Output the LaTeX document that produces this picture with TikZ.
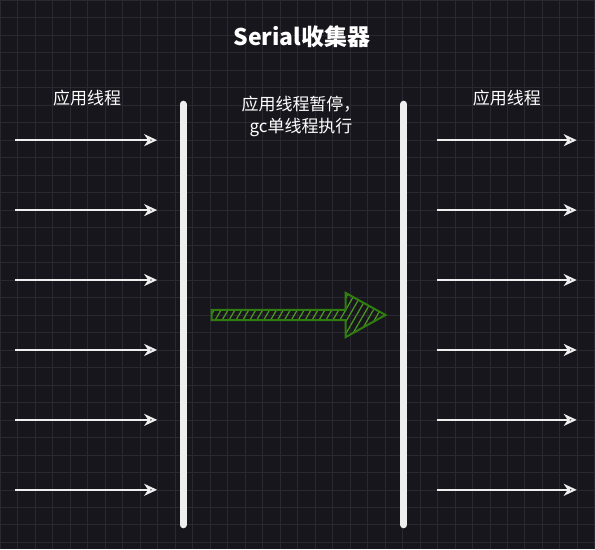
\documentclass[tikz,border=0pt]{standalone}
\usepackage{fontspec}
\setmainfont{Noto Sans CJK SC}
\usepackage{tikz}
\usetikzlibrary{arrows.meta,positioning,patterns.meta,shapes.arrows}
\definecolor{canvas}{HTML}{18161D}
\definecolor{gridgray}{HTML}{2A2831}
\definecolor{chalk}{HTML}{EEEEEE}
\definecolor{moss}{HTML}{2F7D0E}
\definecolor{mosshatch}{HTML}{4C9A1E}

\begin{document}
\begin{tikzpicture}[x=1pt,y=-1pt,
  thread/.style={draw=chalk,line width=2pt,-{Stealth[open,length=13pt,width=12pt,inset=4pt]}},
  barrier/.style={draw=chalk,line width=7pt,line cap=round},
  label/.style={text=white,font=\fontsize{17}{22}\selectfont}]
   \fill[canvas] (0,0) rectangle (595,549);
   \draw[gridgray,line width=0.6pt] (0,0) grid[step=17.5pt] (595,549);
   \useasboundingbox (0,0) rectangle (595,549);

   \node[text=white,font=\bfseries\fontsize{23}{26}\selectfont] (title) at (302,36) {Serial收集器};
   \node[label] (app_l) at (87,98) {应用线程};
   \node[label] (app_r) at (507,98) {应用线程};
   \node[label,align=center] (pause) at (301,116) {应用线程暂停，\\gc单线程执行};

   \coordinate (bar_l1) at (183,104);
   \coordinate (bar_l2) at (183,525);
   \coordinate (bar_r1) at (404,104);
   \coordinate (bar_r2) at (404,525);
   \path (bar_l1) edge[barrier] (bar_l2)
         (bar_r1) edge[barrier] (bar_r2);

   \foreach \y [count=\i] in {140,210,...,490} {
     \coordinate (in_\i) at (15,\y);
     \coordinate (out_\i) at (157,\y);
     \coordinate (rin_\i) at (437,\y);
     \coordinate (rout_\i) at (577,\y);
     \path (in_\i) edge[thread] (out_\i)
           (rin_\i) edge[thread] (rout_\i);
   }

   \node[single arrow,draw=moss,line width=2pt,
         pattern={Lines[angle=60,distance=6pt,line width=1.2pt]},pattern color=mosshatch,
         minimum height=174pt,minimum width=43pt,inner sep=4.5pt,
         single arrow head extend=17pt,single arrow tip angle=58] (gc) at (294,315) {};
\end{tikzpicture}
\end{document}
